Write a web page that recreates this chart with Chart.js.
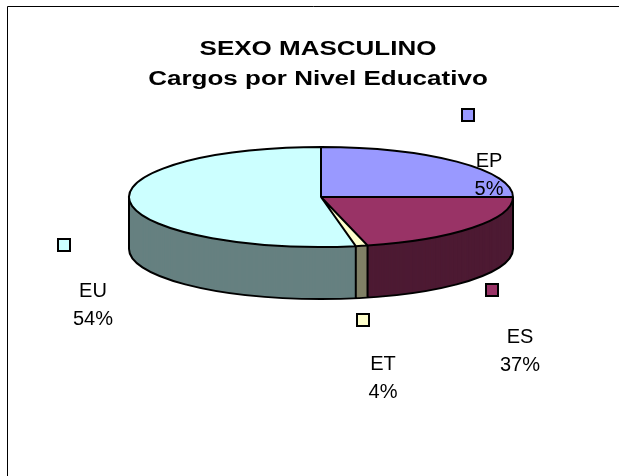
<!DOCTYPE html>
<html>
<head>
<meta charset="utf-8">
<title>SEXO MASCULINO - Cargos por Nivel Educativo</title>
<script src="https://cdn.jsdelivr.net/npm/chart.js@4.4.0/dist/chart.umd.min.js"></script>
<style>
  html, body { margin: 0; padding: 0; background: #fff; overflow: hidden; }
  #wrap { width: 619px; height: 476px; position: relative; }
</style>
</head>
<body>
<div id="wrap"><canvas id="pieChart"></canvas></div>
<script>
// chart data
const titleLines = ['SEXO MASCULINO', 'Cargos por Nivel Educativo'];
const categories = ['EP', 'ES', 'ET', 'EU'];
// slice sizes as they are drawn in the picture (%)
const sliceValues = [25, 21.1, 1.0, 52.9];
// percentages printed next to each slice
const percentLabels = ['5%', '37%', '4%', '54%'];

// colours: top face and darker side
const topColors = ['#9999FF', '#993366', '#FFFFCC', '#CCFFFF'];
const sideColors = ['#4D4D80', '#4D1A33', '#808066', '#668080'];

// label layout: legend key (top-left) and text (centre x, first baseline)
const keyPos = [[461, 108], [485, 283], [356, 313], [57, 238]];
const textPos = [[489, 167], [520, 343], [383, 370], [93, 297]];

const DEPTH = 52;          // height of the pie's side in px
const LABEL_FONT = '20px "Liberation Sans", Arial, sans-serif';
const TITLE_FONT = 'bold 20px "Liberation Sans", Arial, sans-serif';

// squash the round pie into a tilted ellipse that fits the chart area
function pieGeometry(chart) {
    const ca = chart.chartArea;
    const a = chart.getDatasetMeta(0).data[0];
    const r = a.outerRadius;
    const rx = (ca.right - ca.left) / 2;
    const ry = (ca.bottom - ca.top - DEPTH) / 2;
    return { x: a.x, y: a.y, r: r, sx: rx / r, sy: ry / r, cy: ca.top + ry };
}

function applyTilt(ctx, g) {
    ctx.translate(g.x, g.cy);
    ctx.scale(g.sx, g.sy);
    ctx.translate(-g.x, -g.y);
}

const pie3d = {
    id: 'pie3d',
    beforeDatasetsDraw(chart) {
        const ctx = chart.ctx;
        const arcs = chart.getDatasetMeta(0).data;
        const g = pieGeometry(chart);

        // side of the pie, stacked layers in the darker colours
        ctx.save();
        applyTilt(ctx, g);
        for (let o = DEPTH; o >= 1; o--) {
            const off = o / g.sy;
            arcs.forEach((a, i) => {
                ctx.beginPath();
                ctx.moveTo(a.x, a.y + off);
                ctx.arc(a.x, a.y + off, a.outerRadius, a.startAngle, a.endAngle);
                ctx.closePath();
                ctx.fillStyle = sideColors[i];
                ctx.fill();
            });
        }
        // side outline
        const off = DEPTH / g.sy;
        ctx.beginPath();
        ctx.moveTo(g.x + g.r, g.y);
        ctx.lineTo(g.x + g.r, g.y + off);
        ctx.arc(g.x, g.y + off, g.r, 0, Math.PI);
        ctx.lineTo(g.x - g.r, g.y);
        arcs.forEach(a => {
            let ang = a.startAngle % (2 * Math.PI);
            if (ang < 0) ang += 2 * Math.PI;
            if (ang > 0 && ang < Math.PI) {
                const px = g.x + g.r * Math.cos(ang);
                const py = g.y + g.r * Math.sin(ang);
                ctx.moveTo(px, py);
                ctx.lineTo(px, py + off);
            }
        });
        ctx.restore();
        ctx.save();
        ctx.lineWidth = 2;
        ctx.strokeStyle = '#000';
        ctx.lineJoin = 'round';
        ctx.stroke();
        ctx.restore();

        // top face is drawn by Chart.js under the same tilt
        ctx.save();
        applyTilt(ctx, g);
    },
    afterDatasetsDraw(chart) {
        const ctx = chart.ctx;
        ctx.restore();
        const arcs = chart.getDatasetMeta(0).data;
        const g = pieGeometry(chart);

        // outline of the top face
        ctx.save();
        applyTilt(ctx, g);
        ctx.beginPath();
        arcs.forEach(a => {
            ctx.moveTo(a.x, a.y);
            ctx.arc(a.x, a.y, a.outerRadius, a.startAngle, a.endAngle);
            ctx.closePath();
        });
        ctx.restore();
        ctx.save();
        ctx.lineWidth = 2;
        ctx.strokeStyle = '#000';
        ctx.lineJoin = 'round';
        ctx.stroke();
        ctx.restore();
    },
    afterDraw(chart) {
        const ctx = chart.ctx;
        ctx.save();

        // frame
        ctx.strokeStyle = '#000';
        ctx.lineWidth = 1;
        ctx.beginPath();
        ctx.moveTo(7.5, chart.height + 2);
        ctx.lineTo(7.5, 6.5);
        ctx.lineTo(chart.width + 2, 6.5);
        ctx.stroke();

        // title, drawn a bit wider like the original
        ctx.fillStyle = '#000';
        ctx.font = TITLE_FONT;
        ctx.textAlign = 'center';
        ctx.textBaseline = 'alphabetic';
        titleLines.forEach((t, i) => {
            ctx.save();
            ctx.translate(318, 55 + i * 30);
            ctx.scale(1.3, 1);
            ctx.fillText(t, 0, 0);
            ctx.restore();
        });

        // data labels with their colour keys
        ctx.font = LABEL_FONT;
        categories.forEach((c, i) => {
            const [kx, ky] = keyPos[i];
            ctx.fillStyle = topColors[i];
            ctx.fillRect(kx + 1, ky + 1, 12, 12);
            ctx.lineWidth = 2;
            ctx.strokeStyle = '#000';
            ctx.strokeRect(kx + 1, ky + 1, 12, 12);

            const [tx, ty] = textPos[i];
            ctx.fillStyle = '#000';
            ctx.fillText(c, tx, ty);
            ctx.fillText(percentLabels[i], tx, ty + 28);
        });
        ctx.restore();
    }
};

new Chart(document.getElementById('pieChart'), {
    type: 'pie',
    data: {
        labels: categories,
        datasets: [{
            data: sliceValues,
            backgroundColor: topColors,
            borderWidth: 0,
            hoverOffset: 0,
            clip: false
        }]
    },
    options: {
        responsive: true,
        maintainAspectRatio: false,
        devicePixelRatio: 1,
        animation: false,
        events: [],
        layout: {
            padding: { left: 129, right: 106, top: 147, bottom: 177 }
        },
        plugins: {
            legend: { display: false },
            tooltip: { enabled: false },
            title: { display: false }
        }
    },
    plugins: [pie3d]
});
</script>
</body>
</html>
